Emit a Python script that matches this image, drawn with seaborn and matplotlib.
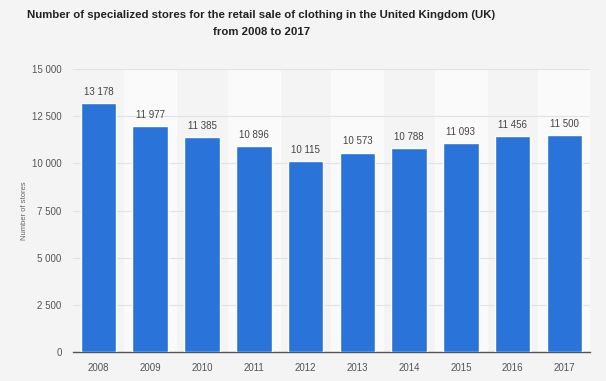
import matplotlib
matplotlib.use("Agg")
import pandas as pd
import seaborn as sns
import matplotlib.pyplot as plt

years = ["2008", "2009", "2010", "2011", "2012", "2013", "2014", "2015", "2016", "2017"]
stores = [13178, 11977, 11385, 10896, 10115, 10573, 10788, 11093, 11456, 11500]
yticks = [0, 2500, 5000, 7500, 10000, 12500, 15000]


def fmt(v):
    return "{:,}".format(v).replace(",", " ")


sns.set_theme(style="white")
plt.rcParams['font.family'] = ['Liberation Sans', 'DejaVu Sans']

df = pd.DataFrame({"year": years, "stores": stores})

fig = plt.figure(figsize=(6.06, 3.81), dpi=100, facecolor="#f4f4f4")
ax = fig.add_axes([0.12, 0.076, 0.854, 0.743])
ax.set_facecolor("#f4f4f4")

# alternating column bands
for i in range(len(years)):
    if i % 2 == 1:
        ax.axvspan(i - 0.5, i + 0.5, color="#fafafa", zorder=0)

sns.barplot(data=df, x="year", y="stores", color="#2a74d9", saturation=1,
            width=0.69, ax=ax, zorder=3)

for i, v in enumerate(stores):
    ax.text(i, v + 320, fmt(v), ha="center", va="bottom", fontsize=7, color="#444444")

ax.set_xlim(-0.5, len(years) - 0.5)
ax.set_ylim(0, 15000)
ax.set_yticks(yticks)
ax.set_yticklabels([fmt(t) for t in yticks])
ax.yaxis.grid(True, color="#e2e2e2", linewidth=0.8, zorder=1)
ax.set_axisbelow(True)
ax.tick_params(axis="both", labelsize=7, colors="#555555", length=0, pad=8)
ax.set_xlabel("")
ax.set_ylabel("Number of stores", fontsize=5.5, color="#666666", labelpad=3)

for s in ["top", "right", "left"]:
    ax.spines[s].set_visible(False)
ax.spines["bottom"].set_color("#555555")
ax.spines["bottom"].set_linewidth(1)

fig.suptitle("Number of specialized stores for the retail sale of clothing in the United Kingdom (UK)\nfrom 2008 to 2017",
             fontsize=8.2, fontweight="bold", color="#222222", x=0.431, y=0.975, linespacing=1.95)

fig.savefig("out.png", dpi=100, facecolor=fig.get_facecolor())
